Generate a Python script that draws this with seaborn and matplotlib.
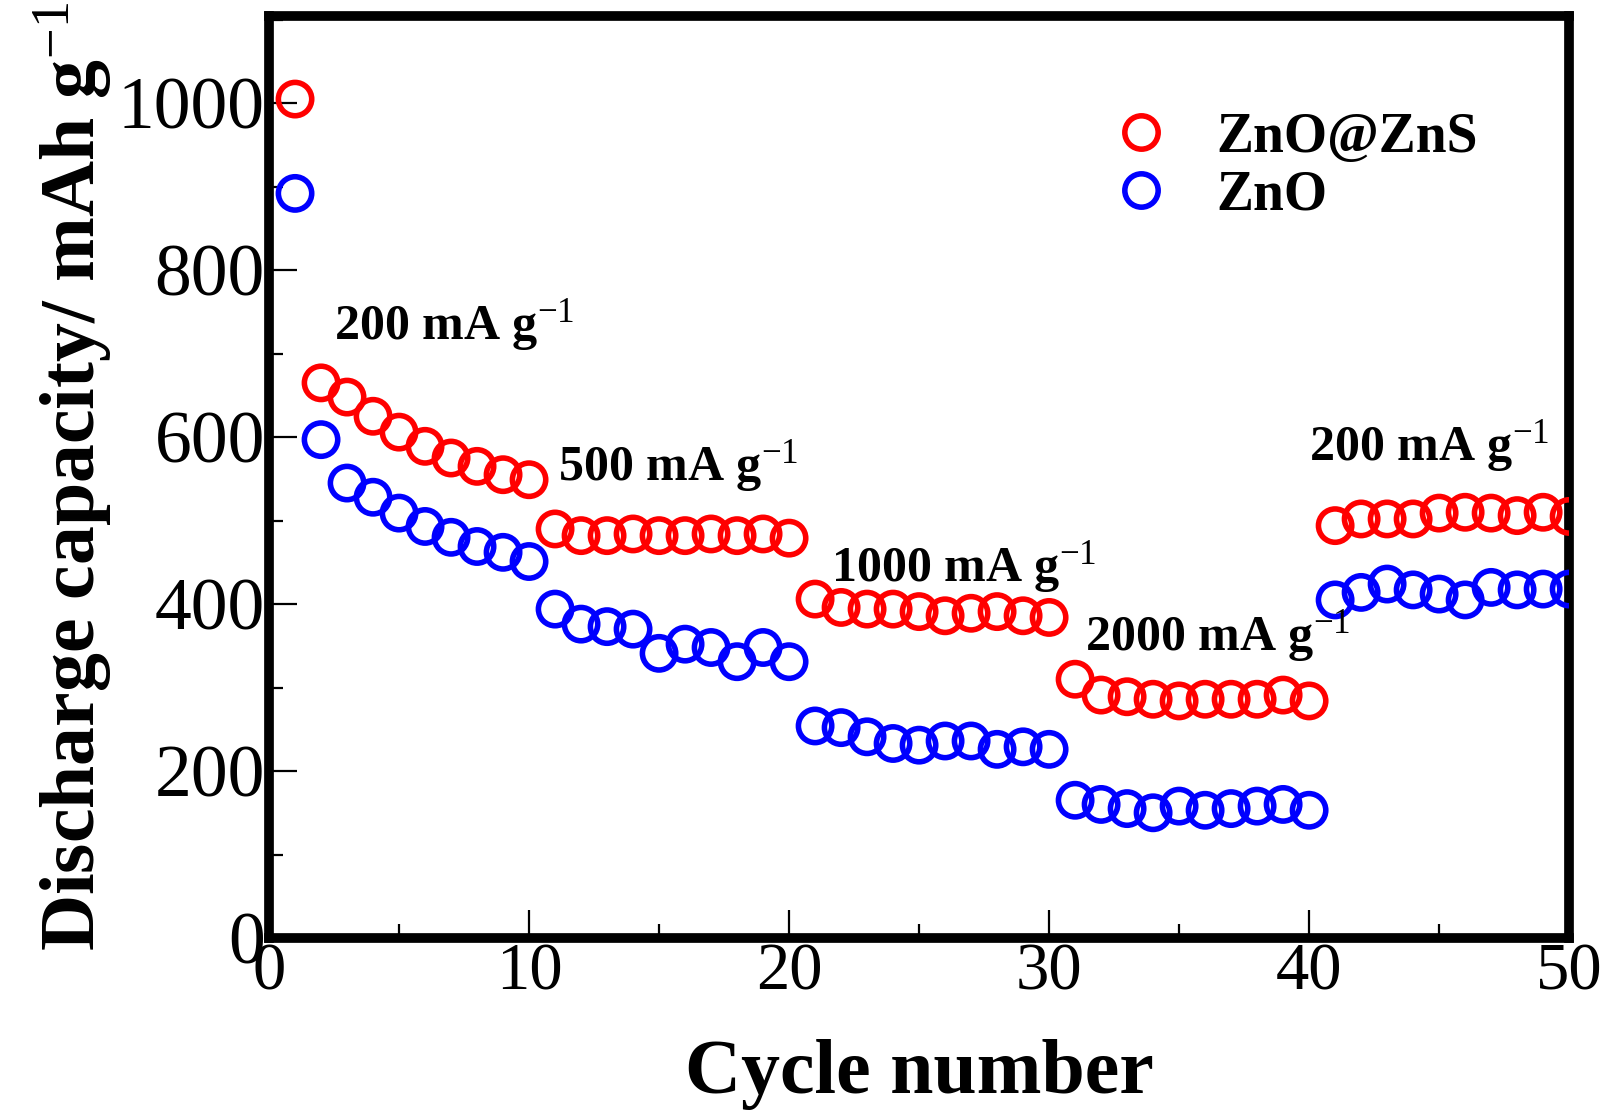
import numpy as np
import pandas as pd
import matplotlib
matplotlib.use("Agg")
import matplotlib.pyplot as plt
import seaborn as sns
from matplotlib.ticker import MultipleLocator
from matplotlib.lines import Line2D

# cycle numbers and discharge capacity (mAh g-1)
cycles = list(range(1, 51))
znozns = [1005, 665, 648, 625, 606, 589, 575, 565, 555, 549,
          490, 482, 482, 484, 482, 482, 484, 482, 484, 479,
          406, 396, 394, 394, 391, 386, 389, 391, 386, 384,
          310, 291, 289, 286, 284, 286, 286, 286, 291, 284,
          494, 502, 502, 502, 509, 510, 509, 506, 510, 505]
zno = [892, 597, 545, 528, 509, 493, 480, 469, 462, 451,
       394, 376, 373, 370, 341, 352, 348, 331, 348, 331,
       254, 252, 241, 233, 231, 236, 236, 226, 229, 226,
       165, 160, 155, 150, 158, 153, 155, 158, 160, 153,
       405, 414, 424, 417, 412, 405, 420, 417, 418, 418]
series_names = ["ZnO@ZnS", "ZnO"]
series_colors = ["#ff0000", "#0000ff"]

# current density labels and where they sit (cycle, capacity)
rate_labels = ["200 mA g$^{-1}$", "500 mA g$^{-1}$", "1000 mA g$^{-1}$",
               "2000 mA g$^{-1}$", "200 mA g$^{-1}$"]
rate_x = [2.5, 11.1, 21.6, 31.4, 40.0]
rate_y = [718, 549, 427, 345, 572]

df = pd.DataFrame({
    "cycle": cycles * 2,
    "capacity": znozns + zno,
    "sample": [series_names[0]] * len(cycles) + [series_names[1]] * len(cycles),
})

sns.set_style("ticks")
plt.rcParams["font.family"] = ["Liberation Serif", "DejaVu Serif"]
plt.rcParams["mathtext.fontset"] = "custom"
plt.rcParams["mathtext.rm"] = "Liberation Serif"
plt.rcParams["mathtext.bf"] = "Liberation Serif:bold"
plt.rcParams["mathtext.default"] = "rm"
for k in ["text.color", "axes.labelcolor", "xtick.color", "ytick.color", "axes.edgecolor"]:
    plt.rcParams[k] = "black"

fig = plt.figure(figsize=(16.13, 11.14), dpi=100)
ax = fig.add_axes([0.1668, 0.158, 0.806, 0.828])

palette = dict(zip(series_names, series_colors))
sns.scatterplot(data=df, x="cycle", y="capacity", hue="sample", palette=palette,
                s=24 ** 2, marker="o", linewidth=4.0, legend=False, ax=ax, zorder=3)

# open circles
for coll in ax.collections:
    fc = coll.get_facecolors()
    coll.set_edgecolors(fc)
    coll.set_facecolors("none")

ax.set_xlim(0, 50)
ax.set_ylim(0, 1105)
ax.xaxis.set_major_locator(MultipleLocator(10))
ax.xaxis.set_minor_locator(MultipleLocator(5))
ax.yaxis.set_major_locator(MultipleLocator(200))
ax.yaxis.set_minor_locator(MultipleLocator(100))
ax.tick_params(which="both", direction="in", top=False, right=False,
               width=1.6, pad=3)
ax.tick_params(axis="x", labelsize=48)
ax.tick_params(axis="y", labelsize=53)
ax.tick_params(which="major", length=20)
ax.tick_params(which="minor", length=10)

for sp in ax.spines.values():
    sp.set_linewidth(7)
    sp.set_color("black")

ax.set_xlabel("Cycle number", fontsize=56, fontweight="bold", labelpad=26)
ax.set_ylabel("Discharge capacity/ mAh g$^{-1}$", fontsize=56,
              fontweight="bold", labelpad=3)

for txt, xx, yy in zip(rate_labels, rate_x, rate_y):
    ax.text(xx, yy, txt, fontsize=36, fontweight="bold", ha="left", va="baseline")

handles = [Line2D([], [], linestyle="none", marker="o", markersize=24,
                  markerfacecolor="none", markeredgecolor=c, markeredgewidth=4.0)
           for c in series_colors]
leg = ax.legend(handles, series_names, loc="upper left",
                bbox_to_anchor=(0.611, 0.95), frameon=False,
                prop={"size": 40, "weight": "bold"},
                handlelength=1.0, handletextpad=0.85, labelspacing=0.1,
                borderpad=0.4)

fig.savefig("out.png", dpi=100)
